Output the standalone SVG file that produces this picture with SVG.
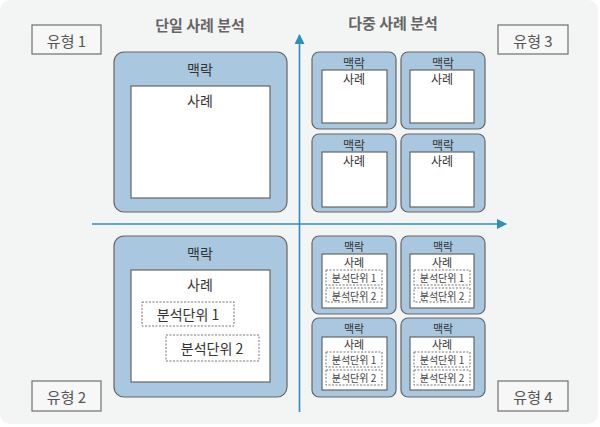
<svg xmlns="http://www.w3.org/2000/svg" width="600" height="427" viewBox="0 0 600 427">
<style>
text{font-family:"Noto Sans CJK KR","Noto Sans",sans-serif;text-anchor:middle;dominant-baseline:central;fill:#333}
.bg{fill:#f3f4f4}
.tag{fill:#f7f7f7;stroke:#7a7a7a;stroke-width:1.3}
.tagt{font-size:15px;fill:#555}
.title{font-size:15px;font-weight:bold;fill:#666}
.ctx{fill:#a9c8df;stroke:#666;stroke-width:1.2}
.case{fill:#fff;stroke:#666;stroke-width:1.2}
.unit{fill:none;stroke:#777;stroke-width:1;stroke-dasharray:2,1.5}
.ax{stroke:#2b8fc0;stroke-width:1.6;fill:none}
.lg{font-size:14px}
.sm{font-size:12px}
.s4{font-size:11px}
.xs{font-size:10px;fill:#444}
</style>
<defs>
<marker id="ah" viewBox="0 0 10 10" refX="9" refY="5" markerWidth="10" markerHeight="10" markerUnits="userSpaceOnUse" orient="auto"><path d="M0,0L10,5L0,10z" fill="#2b8fc0"/></marker>
</defs>
<rect class="bg" x="0" y="0" width="598" height="424" rx="10"/>
<g id="connectors">
<line class="ax" x1="299.5" y1="412" x2="299.5" y2="35" marker-end="url(#ah)"/>
<line class="ax" x1="92" y1="224" x2="506" y2="224" marker-end="url(#ah)"/>
</g>
<text class="title" x="200" y="24">단일 사례 분석</text>
<text class="title" x="393" y="22">다중 사례 분석</text>
<g id="tag1"><rect class="tag" x="32" y="25" width="69" height="29"/><text class="tagt" x="66.5" y="40">유형 1</text></g>
<g id="tag3"><rect class="tag" x="498" y="25" width="70" height="29"/><text class="tagt" x="533" y="40">유형 3</text></g>
<g id="tag2"><rect class="tag" x="32" y="381" width="69" height="30"/><text class="tagt" x="66.5" y="396">유형 2</text></g>
<g id="tag4"><rect class="tag" x="498" y="381" width="70" height="30"/><text class="tagt" x="533" y="396">유형 4</text></g>
<g id="type1">
<rect class="ctx" x="114" y="52" width="173" height="160" rx="10"/>
<text class="lg" x="200" y="69">맥락</text>
<rect class="case" x="131" y="86" width="139" height="112"/>
<text class="lg" x="200" y="100">사례</text>
</g>
<g id="type2">
<rect class="ctx" x="114" y="236" width="173" height="161" rx="10"/>
<text class="lg" x="200" y="253">맥락</text>
<rect class="case" x="131" y="270" width="139" height="112"/>
<text class="lg" x="200" y="284">사례</text>
<rect class="unit" x="142" y="302" width="92" height="24"/>
<text class="lg" x="188" y="314">분석단위 1</text>
<rect class="unit" x="166" y="335" width="93" height="26"/>
<text class="lg" x="212" y="348">분석단위 2</text>
</g>
<g id="type3a"><rect class="ctx" x="312" y="52" width="84" height="77" rx="7"/><text class="sm" x="354" y="62">맥락</text><rect class="case" x="322" y="70" width="65" height="53"/><text class="sm" x="354" y="78">사례</text></g>
<g id="type3b"><rect class="ctx" x="401" y="52" width="84" height="77" rx="7"/><text class="sm" x="443" y="62">맥락</text><rect class="case" x="410" y="70" width="64" height="53"/><text class="sm" x="442" y="78">사례</text></g>
<g id="type3c"><rect class="ctx" x="312" y="134" width="84" height="78" rx="7"/><text class="sm" x="354" y="144">맥락</text><rect class="case" x="322" y="152" width="65" height="55"/><text class="sm" x="354" y="160">사례</text></g>
<g id="type3d"><rect class="ctx" x="401" y="134" width="84" height="78" rx="7"/><text class="sm" x="443" y="144">맥락</text><rect class="case" x="410" y="152" width="64" height="55"/><text class="sm" x="442" y="160">사례</text></g>
<g id="type4a"><rect class="ctx" x="312" y="236" width="84" height="78" rx="7"/><text class="s4" x="354" y="246">맥락</text><rect class="case" x="322" y="254" width="65" height="54"/><text class="s4" x="354" y="262">사례</text>
<rect class="unit" x="326" y="270" width="56" height="15"/><text class="xs" x="354" y="277.5">분석단위 1</text><rect class="unit" x="326" y="288" width="56" height="14"/><text class="xs" x="354" y="295">분석단위 2</text></g>
<g id="type4b"><rect class="ctx" x="401" y="236" width="84" height="78" rx="7"/><text class="s4" x="443" y="246">맥락</text><rect class="case" x="410" y="254" width="64" height="54"/><text class="s4" x="442" y="262">사례</text>
<rect class="unit" x="414" y="270" width="56" height="15"/><text class="xs" x="442" y="277.5">분석단위 1</text><rect class="unit" x="414" y="288" width="56" height="14"/><text class="xs" x="442" y="295">분석단위 2</text></g>
<g id="type4c"><rect class="ctx" x="312" y="318" width="84" height="79" rx="7"/><text class="s4" x="354" y="328">맥락</text><rect class="case" x="322" y="337" width="65" height="53"/><text class="s4" x="354" y="344">사례</text>
<rect class="unit" x="326" y="352" width="56" height="15"/><text class="xs" x="354" y="359.5">분석단위 1</text><rect class="unit" x="326" y="370" width="56" height="15"/><text class="xs" x="354" y="377.5">분석단위 2</text></g>
<g id="type4d"><rect class="ctx" x="401" y="318" width="84" height="79" rx="7"/><text class="s4" x="443" y="328">맥락</text><rect class="case" x="410" y="337" width="64" height="53"/><text class="s4" x="442" y="344">사례</text>
<rect class="unit" x="414" y="352" width="56" height="15"/><text class="xs" x="442" y="359.5">분석단위 1</text><rect class="unit" x="414" y="370" width="56" height="15"/><text class="xs" x="442" y="377.5">분석단위 2</text></g>
</svg>
